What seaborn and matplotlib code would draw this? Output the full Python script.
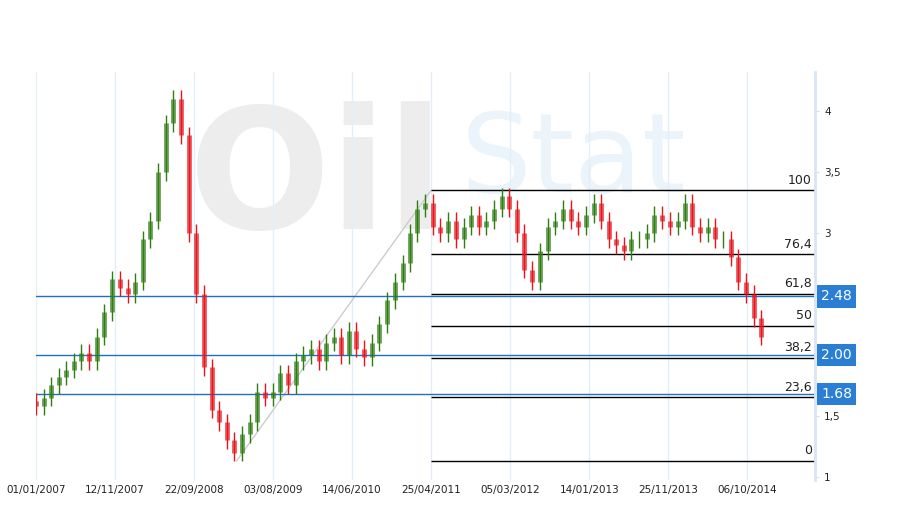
import numpy as np
import pandas as pd
import matplotlib.pyplot as plt
import seaborn as sns

# monthly closes, Jan 2007 .. Dec 2014
closes = [1.58, 1.65, 1.75, 1.82, 1.88, 1.95, 2.02, 1.95, 2.15, 2.35, 2.62, 2.55,
          2.50, 2.60, 2.95, 3.10, 3.50, 3.90, 4.10, 3.80, 3.00, 2.50, 1.90, 1.55,
          1.45, 1.30, 1.20, 1.35, 1.45, 1.70, 1.65, 1.70, 1.85, 1.75, 1.95, 2.00,
          2.05, 1.95, 2.10, 2.15, 2.00, 2.20, 2.05, 1.98, 2.10, 2.25, 2.45, 2.60,
          2.75, 3.00, 3.20, 3.25, 3.05, 3.00, 3.10, 2.95, 3.05, 3.15, 3.05, 3.10,
          3.20, 3.30, 3.20, 3.00, 2.70, 2.60, 2.85, 3.05, 3.10, 3.20, 3.10, 3.05,
          3.15, 3.25, 3.10, 2.95, 2.90, 2.85, 2.95, 2.95, 3.00, 3.15, 3.10, 3.05,
          3.10, 3.25, 3.05, 3.00, 3.05, 2.95, 2.95, 2.80, 2.60, 2.50, 2.30, 2.15]
first_open = 1.62
dates = pd.date_range("2007-01-01", periods=len(closes), freq="MS")

fib_levels = ["0", "23,6", "38,2", "50", "61,8", "76,4", "100"]
fib_ratios = [0, 0.236, 0.382, 0.5, 0.618, 0.764, 1.0]
fib_low, fib_high = 1.13, 3.35
swing_dates = ["2009-03-10", "2011-04-25"]

marks = [2.48, 2.00, 1.68]
mark_labels = ["2.48", "2.00", "1.68"]

tick_dates = ["2007-01-01", "2007-11-12", "2008-09-22", "2009-08-03", "2010-06-14",
              "2011-04-25", "2012-03-05", "2013-01-14", "2013-11-25", "2014-10-06"]
tick_labels = ["01/01/2007", "12/11/2007", "22/09/2008", "03/08/2009", "14/06/2010",
               "25/04/2011", "05/03/2012", "14/01/2013", "25/11/2013", "06/10/2014"]

sns.set_style("white")
plt.rcParams['font.family'] = ['Verdana', 'DejaVu Sans']
fig = plt.figure(figsize=(9.09, 5.09), dpi=100)
ax = fig.add_axes([36 / 909, 29 / 509, 779 / 909, 408 / 509])

opens = [first_open] + closes[:-1]
df = pd.DataFrame({"date": dates, "open": opens, "close": closes})
df["up"] = df["close"] >= df["open"]
wick = 0.07
for _, r in df.iterrows():
    col = "#2e7d12" if r["up"] else "#e8141b"
    lo, hi = min(r["open"], r["close"]), max(r["open"], r["close"])
    ax.vlines(r["date"], lo - wick, hi + wick, color=col, lw=1, zorder=3)
    ax.vlines(r["date"], lo, hi, color=col, lw=3.5, alpha=0.7, zorder=3)

ax.text(0.36, 0.73, "Oil", transform=ax.transAxes, fontsize=120, color="#ededed",
        fontweight="bold", ha="center", va="center", zorder=0)
ax.text(0.69, 0.78, "Stat", transform=ax.transAxes, fontsize=80, color="#eaf4fa",
        ha="center", va="center", zorder=0)

sd = pd.to_datetime(swing_dates)
ax.plot(sd, [fib_low, fib_high], color="#cccccc", lw=1)

x_end = pd.Timestamp("2015-07-03")
ax.set_xlim(pd.Timestamp("2007-01-01"), x_end)
ax.set_ylim(0.975, 4.32)
for lab, r in zip(fib_levels, fib_ratios):
    v = fib_low + r * (fib_high - fib_low)
    ax.hlines(v, sd[1], x_end, color="black", lw=1)
    ax.text(pd.Timestamp("2015-06-20"), v + 0.03, lab, ha="right", va="bottom",
            fontsize=9, color="#222222")

for v, lab in zip(marks, mark_labels):
    ax.axhline(v, color="#1f6fc8", lw=1)
    ax.text(1.008, v, lab, transform=ax.get_yaxis_transform(), ha="left", va="center",
            fontsize=10, color="white",
            bbox=dict(boxstyle="square,pad=0.3", fc="#2a7fd4", ec="none"))

ax.set_xticks(pd.to_datetime(tick_dates))
ax.set_xticklabels(tick_labels, fontsize=7.5, color="#222222")
ax.grid(axis="x", color="#e4eef8", lw=1)
ax.yaxis.tick_right()
ax.set_yticks([1, 1.5, 3, 3.5, 4])
ax.set_yticklabels(["1", "1,5", "3", "3,5", "4"], fontsize=7.5, color="#222222")
ax.tick_params(axis="y", length=3, color="#cfe0f0")
ax.tick_params(axis="x", length=0)
for s in ax.spines.values():
    s.set_visible(False)
ax.spines["right"].set_visible(True)
ax.spines["right"].set_color("#d8e6f3")
ax.spines["right"].set_linewidth(2)

fig.savefig("out.png", dpi=100)
